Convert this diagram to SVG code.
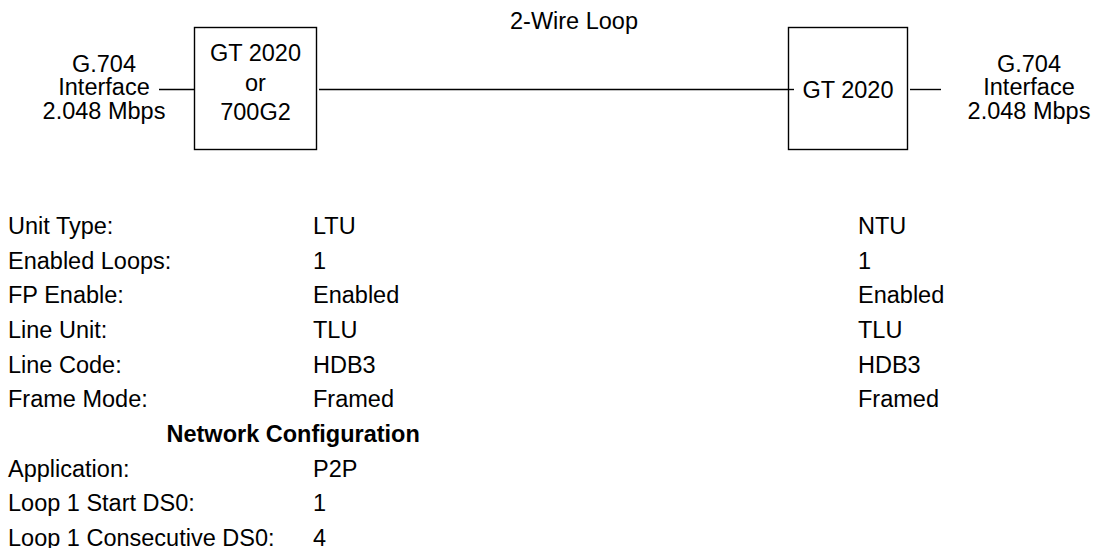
<svg xmlns="http://www.w3.org/2000/svg" width="1094" height="548" viewBox="0 0 1094 548">
<style>
text{font-family:"Liberation Sans",Arial,sans-serif;font-size:23.5px;fill:#000}
.c{text-anchor:middle}
.b{font-weight:bold}
.box{fill:#fff;stroke:#000;stroke-width:1.4}
.ln{stroke:#000;stroke-width:1.4;fill:none}
</style>
<rect width="1094" height="548" fill="#fff"/>
<g id="connectors">
<line class="ln" x1="159" y1="89.5" x2="194" y2="89.5"/>
<line class="ln" x1="319" y1="89.5" x2="794" y2="89.5"/>
<line class="ln" x1="910" y1="89.5" x2="941" y2="89.5"/>
<text class="c" x="574" y="29">2-Wire Loop</text>
</g>
<g id="g704-left">
<text class="c" x="104" y="71.5">G.704</text>
<text class="c" x="104" y="95">Interface</text>
<text class="c" x="104" y="118.5">2.048 Mbps</text>
</g>
<g id="ltu">
<rect class="box" x="194.5" y="27.5" width="122" height="122"/>
<text class="c" x="255.5" y="60.5">GT 2020</text>
<text class="c" x="255.5" y="90.5">or</text>
<text class="c" x="255.5" y="120">700G2</text>
</g>
<g id="ntu">
<rect class="box" x="788.5" y="27.5" width="119" height="122"/>
<line class="ln" x1="788" y1="89.5" x2="794" y2="89.5"/>
<text class="c" x="848" y="97.5">GT 2020</text>
</g>
<g id="g704-right">
<text class="c" x="1029" y="71.5">G.704</text>
<text class="c" x="1029" y="95">Interface</text>
<text class="c" x="1029" y="118.5">2.048 Mbps</text>
</g>
<g id="config-table">
<text x="8" y="234">Unit Type:</text>
<text x="313" y="234">LTU</text>
<text x="858" y="234">NTU</text>
<text x="8" y="268.7">Enabled Loops:</text>
<text x="313" y="268.7">1</text>
<text x="858" y="268.7">1</text>
<text x="8" y="303.3">FP Enable:</text>
<text x="313" y="303.3">Enabled</text>
<text x="858" y="303.3">Enabled</text>
<text x="8" y="338">Line Unit:</text>
<text x="313" y="338">TLU</text>
<text x="858" y="338">TLU</text>
<text x="8" y="372.7">Line Code:</text>
<text x="313" y="372.7">HDB3</text>
<text x="858" y="372.7">HDB3</text>
<text x="8" y="407.3">Frame Mode:</text>
<text x="313" y="407.3">Framed</text>
<text x="858" y="407.3">Framed</text>
<text class="b" x="166.5" y="442">Network Configuration</text>
<text x="8" y="476.7">Application:</text>
<text x="313" y="476.7">P2P</text>
<text x="8" y="511.3">Loop 1 Start DS0:</text>
<text x="313" y="511.3">1</text>
<text x="8" y="546">Loop 1 Consecutive DS0:</text>
<text x="313" y="546">4</text>
</g>
</svg>
